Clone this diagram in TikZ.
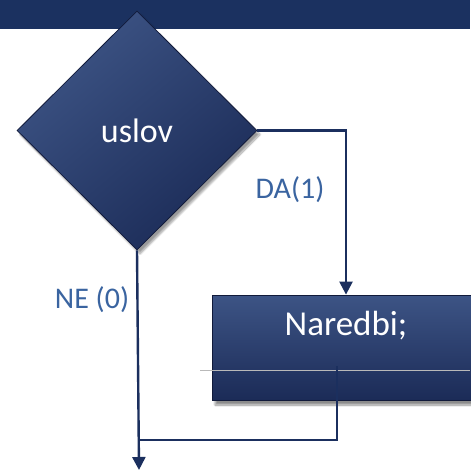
\documentclass[tikz,border=0pt]{standalone}
\usepackage{fontspec}
\setmainfont{Carlito}
\usetikzlibrary{shapes.geometric,arrows.meta,shadows.blur}
\definecolor{band}{HTML}{1B3160}
\definecolor{navylight}{HTML}{3D5485}
\definecolor{navydark}{HTML}{1B2B57}
\definecolor{edge}{HTML}{111A3A}
\definecolor{wire}{HTML}{1B2F5E}
\definecolor{lbl}{HTML}{3A64A0}
\tikzset{
  decision/.style={diamond, aspect=1, minimum width=240pt, minimum height=239pt, inner sep=0pt,
    draw=edge, line width=0.8pt, top color=navylight, bottom color=navydark, shading angle=40,
    blur shadow={shadow xshift=3pt, shadow yshift=-4pt, shadow blur steps=12, shadow opacity=40},
    text=white, font=\fontsize{34}{40}\selectfont},
  process/.style={rectangle, minimum width=268pt, minimum height=105pt, inner sep=0pt,
    draw=edge, line width=0.8pt, top color=navylight, bottom color=navydark,
    blur shadow={shadow xshift=3pt, shadow yshift=-5pt, shadow blur steps=12, shadow opacity=45}},
  ptext/.style={text=white, font=\fontsize{35}{40}\selectfont, inner sep=0pt},
  wire/.style={draw=wire, line width=2.4pt},
  arr/.style={-{Triangle[width=13pt,length=13pt]}},
  lab/.style={text=lbl, font=\fontsize{30}{36}\selectfont, inner sep=0pt}
}
\begin{document}
\begin{tikzpicture}[x=1pt,y=-1pt]
\useasboundingbox (0,0) rectangle (470,470);
\fill[band] (0,0) rectangle (470,29);
\node[decision] (d) at (137,130.5) {uslov};
\node[process] (r) at (346,347.5) {};
\node[ptext] (rt) at (346,326) {Naredbi;};
\draw[gray!55, line width=0.6pt] (200,370) -- (470,370);
\coordinate (c1) at (337,366);
\coordinate (c2) at (139,440);
\coordinate (out) at (139,470);
\draw[wire, arr] (d.east) -| (r.north);
\draw[wire] (c1) |- (c2);
\draw[wire, arr] (d.south) -- (out);
\node[lab] (da) at (290,190) {DA(1)};
\node[lab] (ne) at (92,300) {NE (0)};
\end{tikzpicture}
\end{document}
